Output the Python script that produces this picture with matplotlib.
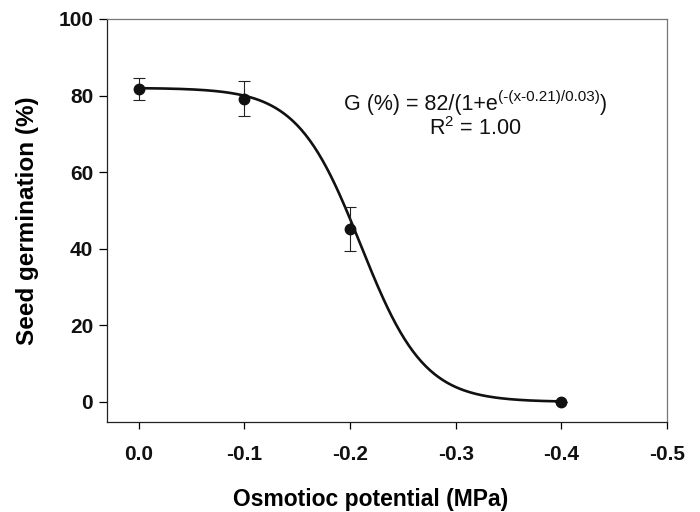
import numpy as np
import matplotlib
matplotlib.use("Agg")
import matplotlib.pyplot as plt

plt.rcParams['font.family'] = ['Liberation Sans', 'DejaVu Sans']
plt.rcParams['mathtext.fontset'] = 'custom'
plt.rcParams['mathtext.rm'] = 'Liberation Sans'
plt.rcParams['mathtext.default'] = 'regular'

# observed data
potential = [0.0, -0.1, -0.2, -0.4]
germination = [81.8, 79.2, 45.1, 0.0]
germ_err = [2.9, 4.5, 5.7, 0.0]

# fitted sigmoid parameters (from the equation on the chart)
g_max = 82
x50 = -0.21
slope = 0.03

x_fit = np.linspace(0.0, -0.4, 300)
y_fit = g_max / (1 + np.exp(-(x_fit - x50) / slope))

fig = plt.figure(figsize=(7, 5.12), dpi=100)
ax = fig.add_axes([0.153, 0.176, 0.800, 0.787])

ax.plot(x_fit, y_fit, color='#111111', lw=1.9, zorder=2)
ax.errorbar(potential, germination, yerr=germ_err, fmt='o', color='#111111',
            ms=7.5, ecolor='#222222', elinewidth=0.8, capsize=4.5, capthick=0.8, zorder=3)

ax.set_xlim(0.03, -0.5)
ax.set_ylim(-5.2, 100)
ax.set_xticks([0.0, -0.1, -0.2, -0.3, -0.4, -0.5])
ax.set_xticklabels(['0.0', '-0.1', '-0.2', '-0.3', '-0.4', '-0.5'])
ax.set_yticks([0, 20, 40, 60, 80, 100])

ax.tick_params(axis='x', direction='out', length=5, width=0.9, labelsize=15, pad=12)
ax.tick_params(axis='y', direction='out', length=6, width=0.9, labelsize=15, pad=4)
for lab in ax.get_xticklabels() + ax.get_yticklabels():
    lab.set_fontweight('bold')
    lab.set_color('#111111')

for side in ['top', 'right']:
    ax.spines[side].set_color('#777777')
for side in ['left', 'bottom']:
    ax.spines[side].set_color('#222222')
for sp in ax.spines.values():
    sp.set_linewidth(0.9)

ax.set_xlabel('Osmotioc potential (MPa)', fontsize=16.5, fontweight='bold')
ax.xaxis.set_label_coords(0.471, -0.165)
ax.set_ylabel('Seed germination (%)', fontsize=17.5, fontweight='bold', labelpad=14)

# equation text, built in pieces so the exponent keeps plain hyphens
t1 = ax.text(-0.1943, 76.1, 'G (%) = 82/(1+e', fontsize=15.5, ha='left', va='baseline',
             color='#111111')
t2 = ax.annotate('(-(x-0.21)/0.03)', xy=(1, 0.55), xycoords=t1, fontsize=11,
                 ha='left', va='bottom', color='#111111')
ax.annotate(')', xy=(1, 0), xycoords=(t2, t1), fontsize=15.5,
            ha='left', va='bottom', color='#111111')

ax.text(-0.2745, 69.7, r'R$^{2}$ = 1.00', fontsize=15.5, ha='left', va='baseline',
        color='#111111')

fig.savefig('out.png', dpi=100)
